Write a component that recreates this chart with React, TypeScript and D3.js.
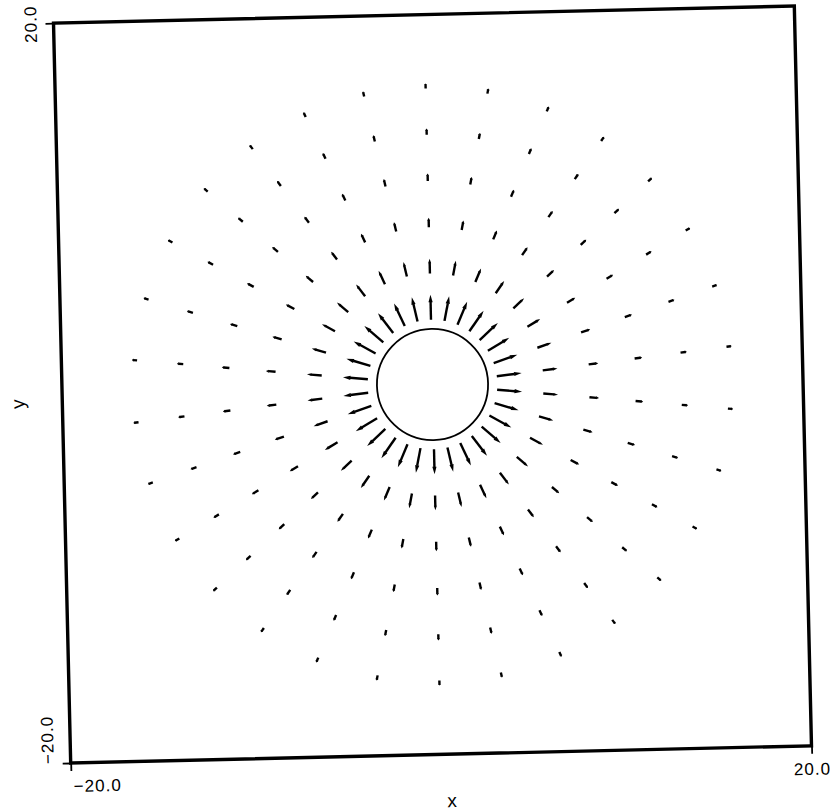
import { useEffect, useRef } from "react";
import * as d3 from "d3";

// plot window, data units
const xDomain = [-20, 20];
const yDomain = [-20, 20];
const axisTicks = [-20, 20];

// radius of the solid body in the middle
const bodyRadius = 3.0;

// radial position of each ring of arrows (tail) and the arrow length read per ring
const ringRadii = [3.5, 6.0, 8.5, 11.0, 13.5, 16.0];
const ringLengths = [1.35, 0.8, 0.52, 0.41, 0.34, 0.28];

// angle (degrees) of every arrow on a ring
const arrowAngles = [
  6, 18, 30, 42, 54, 66, 78, 90, 102, 114, 126, 138, 150, 162, 174,
  186, 198, 210, 222, 234, 246, 258, 270, 282, 294, 306, 318, 330, 342, 354,
];

const width = 830;
const height = 812;
const left = 62;
const right = 803;
const top = 14.5;
const bottom = 754.5;
const tilt = -1.33; // the scanned page sits slightly crooked

const font = "'Liberation Sans', Arial, Helvetica, sans-serif";

function App() {
  const xAxisRef = useRef<SVGGElement>(null);
  const yAxisRef = useRef<SVGGElement>(null);

  const xScale = d3.scaleLinear().domain(xDomain).range([left, right]);
  const yScale = d3.scaleLinear().domain(yDomain).range([bottom, top]);
  const cx = (left + right) / 2;
  const cy = (top + bottom) / 2;

  useEffect(() => {
    const fmt = d3.format(".1f");

    const gx = d3.select(xAxisRef.current);
    gx.call(
      d3.axisBottom(xScale).tickValues(axisTicks).tickSize(8).tickPadding(9).tickFormat(fmt)
    );
    gx.select(".domain").remove();
    gx.selectAll(".tick line").attr("stroke", "#000").attr("stroke-width", 1.8);
    gx.selectAll(".tick text")
      .attr("fill", "#000")
      .style("font-family", font)
      .style("font-size", "17px")
      .style("letter-spacing", "1px")
      .attr("x", (d) => ((d as number) < 0 ? 2 : 0))
      .attr("text-anchor", (d) => ((d as number) < 0 ? "start" : "middle"));

    const gy = d3.select(yAxisRef.current);
    gy.call(d3.axisLeft(yScale).tickValues(axisTicks).tickSize(8).tickFormat(fmt));
    gy.select(".domain").remove();
    gy.selectAll(".tick line").attr("stroke", "#000").attr("stroke-width", 1.8);
    gy.selectAll(".tick text")
      .attr("fill", "#000")
      .style("font-family", font)
      .style("font-size", "17px")
      .style("letter-spacing", "1px")
      .attr("transform", "rotate(-90)")
      .attr("x", 0)
      .attr("y", -17)
      .attr("dy", 0)
      .attr("text-anchor", (d) => ((d as number) < 0 ? "start" : "middle"));
  }, []);

  const arrows = [];
  ringRadii.forEach((r, i) => {
    const len = ringLengths[i];
    arrowAngles.forEach((deg) => {
      const a = (deg * Math.PI) / 180;
      const x0 = xScale(r * Math.cos(a));
      const y0 = yScale(r * Math.sin(a));
      const x1 = xScale((r + len) * Math.cos(a));
      const y1 = yScale((r + len) * Math.sin(a));
      const dx = x1 - x0;
      const dy = y1 - y0;
      const L = Math.hypot(dx, dy);
      const ux = dx / L;
      const uy = dy / L;
      const hl = L * 0.3;
      const hw = Math.max(1.5, L * 0.085);
      const bx = x1 - ux * hl;
      const by = y1 - uy * hl;
      const head = [
        [x1, y1],
        [bx - uy * hw, by + ux * hw],
        [bx + uy * hw, by - ux * hw],
      ];
      arrows.push(
        <g key={`${i}-${deg}`}>
          <line x1={x0} y1={y0} x2={bx + ux * 0.5} y2={by + uy * 0.5} stroke="#000" strokeWidth={2.4} />
          <path d={d3.line()(head as [number, number][]) + "Z"} fill="#000" />
        </g>
      );
    });
  });

  return (
    <svg
      width={width}
      height={height}
      style={{ position: "absolute", left: 0, top: 0, background: "#fff" }}
    >
      <g transform={`rotate(${tilt}, ${cx}, ${cy})`}>
        <circle
          cx={xScale(0)}
          cy={yScale(0)}
          r={xScale(bodyRadius) - xScale(0)}
          fill="none"
          stroke="#000"
          strokeWidth={1.8}
        />
        {arrows}
        <rect
          x={left}
          y={top}
          width={right - left}
          height={bottom - top}
          fill="none"
          stroke="#000"
          strokeWidth={3.4}
        />
        <g ref={xAxisRef} transform={`translate(0, ${bottom})`} />
        <g ref={yAxisRef} transform={`translate(${left}, 0)`} />
        <text
          x={cx + 10}
          y={bottom + 53}
          textAnchor="middle"
          fontFamily={font}
          fontSize={19}
        >
          x
        </text>
        <text
          transform={`translate(${left - 38}, ${cy + 10}) rotate(-90)`}
          textAnchor="middle"
          fontFamily={font}
          fontSize={19}
        >
          y
        </text>
      </g>
    </svg>
  );
}

export default App;
